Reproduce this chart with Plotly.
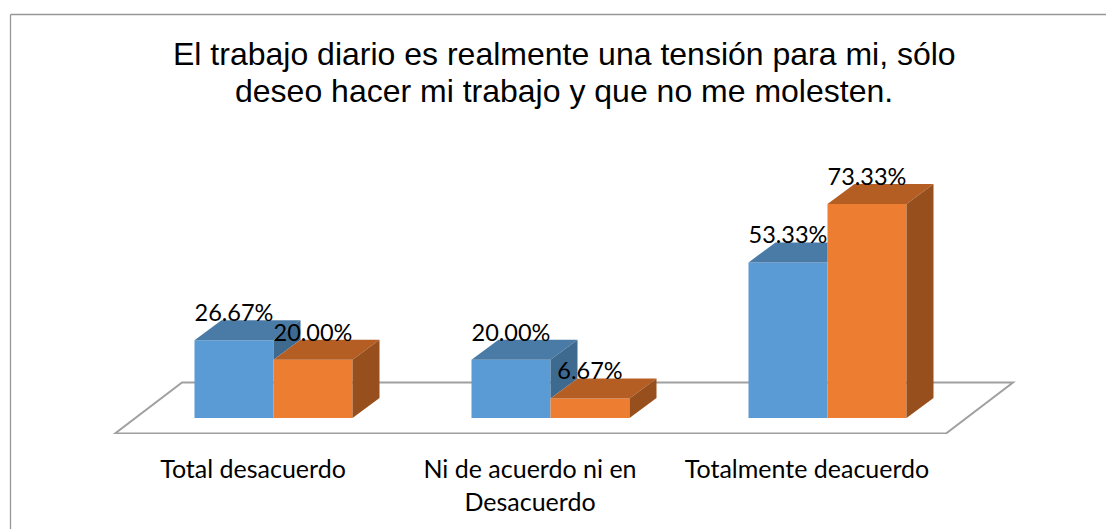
import plotly.graph_objects as go

categories = ["Total desacuerdo", "Ni de acuerdo ni en<br>Desacuerdo", "Totalmente deacuerdo"]
serie_a = [26.67, 20.00, 53.33]
serie_b = [20.00, 6.67, 73.33]
title_lines = ["El trabajo diario es realmente una tensión para mi, sólo",
               "deseo hacer mi trabajo y que no me molesten."]

W, H = 1106, 529
PX_X = 277.0          # pixels per category
PX_Y = 2.918          # pixels per percentage point
ZERO_PX_X = 273.5     # pixel of category 0 centre
ZERO_PX_Y = 418.0     # pixel of value 0
FLOOR_PX = 434.0
BAR_W = 79.0 / PX_X
DX = 27.0 / PX_X      # depth of the pseudo 3D boxes
DY = 20.0 / PX_Y
LABEL_UP = 25.0 / PX_Y

BLUE, BLUE_TOP, BLUE_SIDE = "#5B9BD5", "#4A7BA7", "#3E6A90"
ORANGE, ORANGE_TOP, ORANGE_SIDE = "#ED7D31", "#B55E24", "#97501D"

fig = go.Figure()
xs = list(range(len(categories)))

fig.add_bar(x=xs, y=serie_a, marker=dict(color=BLUE, line_width=0), hoverinfo="skip", showlegend=False)
fig.add_bar(x=xs, y=serie_b, marker=dict(color=ORANGE, line_width=0), hoverinfo="skip", showlegend=False)


def face(px, py, color):
    fig.add_scatter(x=px + px[:1], y=py + py[:1], mode="lines", fill="toself", fillcolor=color,
                    line=dict(width=0, color=color), hoverinfo="skip", showlegend=False)


for i, (a, b) in enumerate(zip(serie_a, serie_b)):
    # blue box: left x0, right x1; orange box: x1 to x2
    x0, x1, x2 = i - BAR_W, i, i + BAR_W
    # blue top, clipped by the taller orange front
    if b > a:
        face([x0, x0 + DX, x1, x1], [a, a + DY, a + DY, a], BLUE_TOP)
    else:
        face([x0, x0 + DX, x1 + DX, x1], [a, a + DY, a + DY, a], BLUE_TOP)
        # part of the blue side that rises above the orange box
        face([x1, x1 + DX, x1 + DX, x1], [a, a + DY, b + DY, b], BLUE_SIDE)
    face([x1, x1 + DX, x2 + DX, x2], [b, b + DY, b + DY, b], ORANGE_TOP)
    face([x2, x2 + DX, x2 + DX, x2], [b, b + DY, DY, 0], ORANGE_SIDE)

labels_x, labels_y, labels_t = [], [], []
for i, (a, b) in enumerate(zip(serie_a, serie_b)):
    labels_x += [i - BAR_W / 2, i + BAR_W / 2]
    labels_y += [a + LABEL_UP, b + LABEL_UP]
    labels_t += [f"{a:.2f}%", f"{b:.2f}%"]
fig.add_scatter(x=labels_x, y=labels_y, text=labels_t, mode="text", textposition="middle center",
                textfont=dict(family="Lato", size=23.5, color="#000000"),
                hoverinfo="skip", showlegend=False, cliponaxis=False)


def to_x(p):
    return (p - ZERO_PX_X) / PX_X


def to_y(p):
    return (ZERO_PX_Y - p) / PX_Y


floor_pts = [(115, 433.5), (182, 382.5), (1013, 382.5), (946, 433.5)]
floor_path = "M " + " L ".join(f"{to_x(px)} {to_y(py)}" for px, py in floor_pts) + " Z"

title_annotations = [
    dict(text=line, xref="paper", yref="paper", x=564 / W, y=(FLOOR_PX - py) / FLOOR_PX,
         xanchor="center", yanchor="middle", showarrow=False,
         font=dict(family="Liberation Sans", size=32, color="#000000"))
    for line, py in zip(title_lines, [54, 91])
]

fig.update_layout(
    width=W, height=H, autosize=False,
    margin=dict(l=0, r=0, t=0, b=H - FLOOR_PX, pad=0),
    paper_bgcolor="white", plot_bgcolor="white",
    barmode="group", bargap=1 - 2 * BAR_W, bargroupgap=0,
    showlegend=False,
    annotations=title_annotations,
    xaxis=dict(range=[to_x(0), to_x(W)], tickmode="array", tickvals=[i - 20.5 / PX_X for i in xs],
               ticktext=categories, ticks="outside", ticklen=13, tickcolor="rgba(0,0,0,0)",
               showgrid=False, zeroline=False, showline=False,
               tickfont=dict(family="Lato", size=25, color="#000000")),
    yaxis=dict(range=[to_y(FLOOR_PX), to_y(0)], visible=False),
    shapes=[
        dict(type="path", path=floor_path, layer="below", xref="x", yref="y",
             fillcolor="white", line=dict(color="#A0A0A0", width=2)),
        dict(type="line", xref="paper", yref="paper", x0=10.5 / W, x1=1,
             y0=(FLOOR_PX - 14.5) / FLOOR_PX, y1=(FLOOR_PX - 14.5) / FLOOR_PX,
             line=dict(color="#979797", width=1.3), layer="above"),
        dict(type="line", xref="paper", yref="paper", x0=10.5 / W, x1=10.5 / W,
             y0=(FLOOR_PX - H) / FLOOR_PX, y1=(FLOOR_PX - 14.5) / FLOOR_PX,
             line=dict(color="#979797", width=1.3), layer="above"),
    ],
)

fig.write_html("out.html", config=dict(displayModeBar=False),
               post_script="document.body.style.margin='0';document.body.style.overflow='hidden';")
